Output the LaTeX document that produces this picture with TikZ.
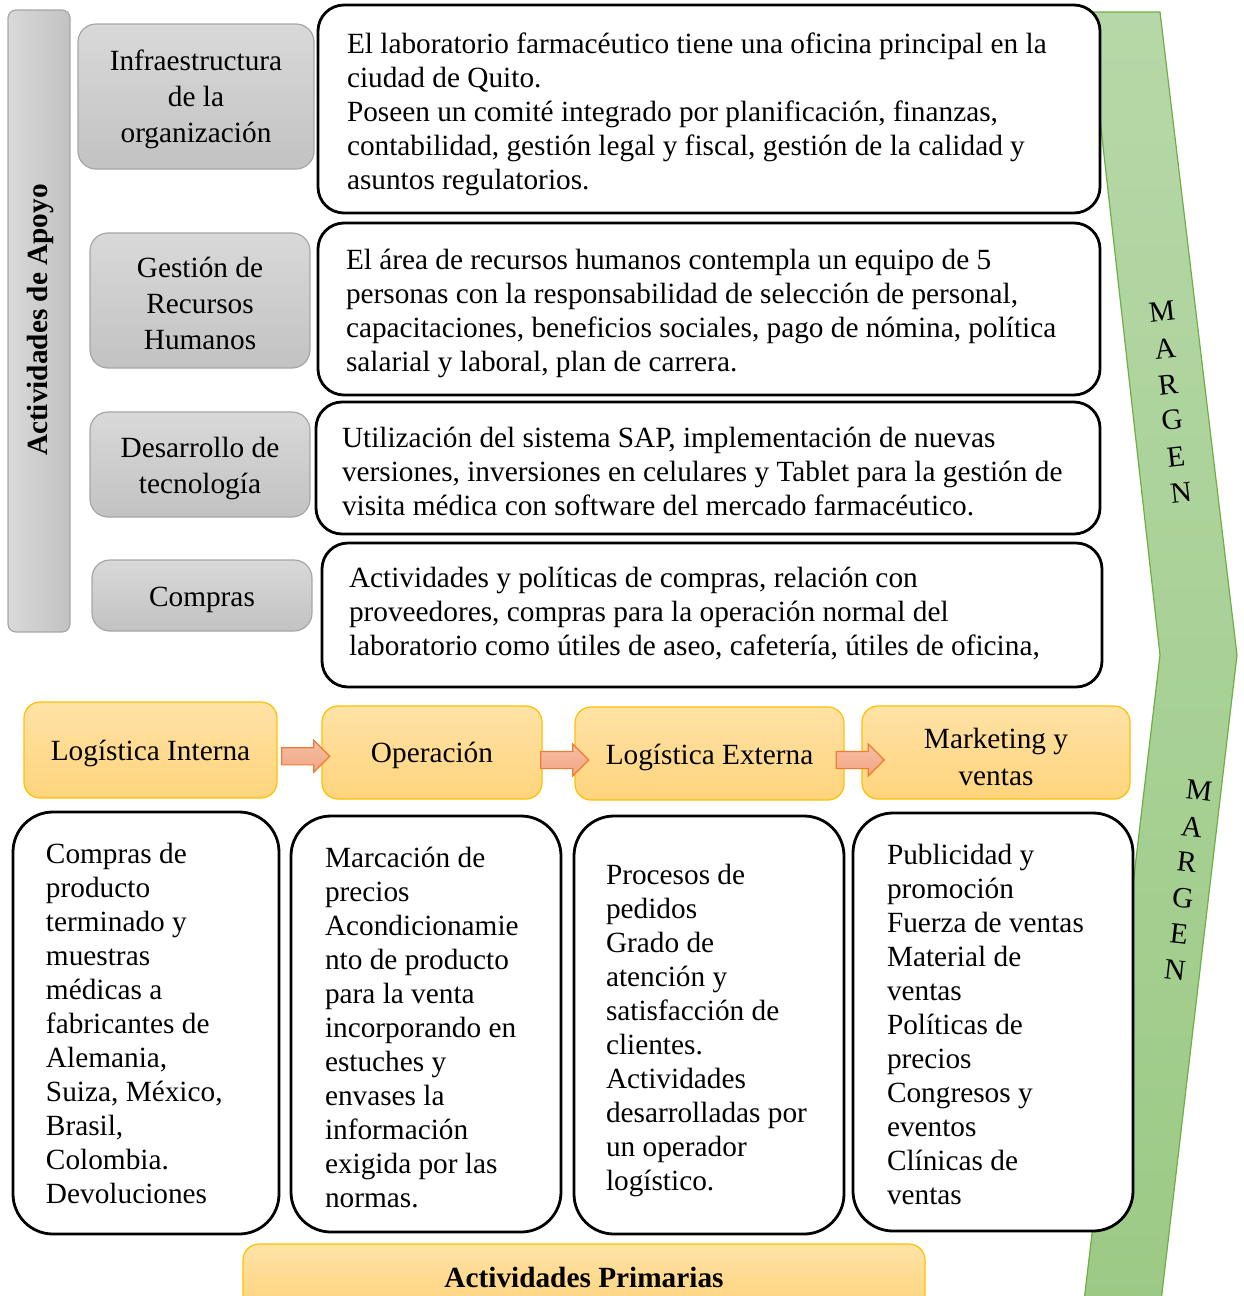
\documentclass[tikz,border=0pt]{standalone}
\usepackage{fontspec}
\setmainfont{Liberation Serif}
\usetikzlibrary{calc,shapes.arrows}

\definecolor{supTop}{HTML}{D9D9D9}
\definecolor{supBot}{HTML}{C2C2C2}
\definecolor{supEdge}{HTML}{A6A6A6}
\definecolor{primTop}{HTML}{FFE2A6}
\definecolor{primBot}{HTML}{FFD47C}
\definecolor{primEdge}{HTML}{FFC000}
\definecolor{arrTop}{HTML}{F7BFA5}
\definecolor{arrBot}{HTML}{F2A585}
\definecolor{arrEdge}{HTML}{ED7D31}
\definecolor{marTop}{HTML}{B6D8A8}
\definecolor{marBot}{HTML}{9CCA85}
\definecolor{marEdge}{HTML}{70AD47}

\begin{document}
\begin{tikzpicture}[x=0.5pt,y=-0.5pt,
  bodyfont/.style={font=\fontsize{14.65}{17}\selectfont},
  supportbox/.style={draw=supEdge, top color=supTop, bottom color=supBot,
    rounded corners=9pt, line width=0.6pt, inner sep=0pt},
  supporttext/.style={align=center, inner sep=0pt, font=\fontsize{14.65}{18}\selectfont},
  descbox/.style={draw=black, fill=white, line width=1.4pt,
    rounded corners=13pt, inner sep=0pt},
  primdesc/.style={descbox, rounded corners=20pt},
  desctext/.style={bodyfont, align=left, inner sep=0pt, anchor=west},
  primbox/.style={draw=primEdge, top color=primTop, bottom color=primBot,
    rounded corners=8pt, line width=0.6pt, inner sep=0pt},
  primtext/.style={align=center, inner sep=0pt, font=\fontsize{14.65}{18.5}\selectfont},
  flowarrow/.style={single arrow, draw=arrEdge, top color=arrTop, bottom color=arrBot,
    minimum height=24pt, inner xsep=0pt, inner ysep=4pt,
    single arrow head extend=3.75pt, line width=0.6pt},
  letter/.style={bodyfont, inner sep=0pt}
]
\clip (0,0) rectangle (1243,1296);

% margin chevron behind everything
\draw[marEdge, line width=0.6pt, top color=marTop, bottom color=marBot]
  (1088,12) -- (1160,12) -- (1237,655) -- (1160,1310) -- (1083,1310) -- (1160,655) -- cycle;
\foreach \ch/\px/\py in {M/1162/312, A/1165/349, R/1168/385, G/1172/420, E/1176/457, N/1181/493}
  \node[letter, rotate=6.4] (up\ch) at (\px,\py) {\ch};
\foreach \ch/\px/\py in {M/1199/790, A/1192/827, R/1187/862, G/1183/898, E/1179/934, N/1175/970}
  \node[letter, rotate=-6.4] (lo\ch) at (\px,\py) {\ch};

% support activities
\node[draw=supEdge, left color=supTop, right color=supBot, rounded corners=4pt,
      line width=0.6pt, minimum width=31pt, minimum height=311pt, inner sep=0pt] (bar) at (39,321) {};
\node[rotate=90, font=\fontsize{14.65}{17}\selectfont\bfseries, inner sep=0pt] (apoyo) at (40,320) {Actividades de Apoyo};

\node[supportbox, minimum width=118pt, minimum height=72.5pt] (infra) at (196,96.5) {};
\node[supporttext] (infraT) at ($(infra.center)+(0,3)$) {Infraestructura\\de la\\organización};
\node[supportbox, minimum width=110pt, minimum height=67.5pt] (rrhh) at (200,300.5) {};
\node[supporttext] (rrhhT) at ($(rrhh.center)+(0,3)$) {Gestión de\\Recursos\\Humanos};
\node[supportbox, minimum width=110pt, minimum height=52.5pt] (tec) at (200,464.5) {};
\node[supporttext] (tecT) at ($(tec.center)+(0,4)$) {Desarrollo de\\tecnología};
\node[supportbox, minimum width=110pt, minimum height=35.5pt] (comp) at (202,595.5) {};
\node[supporttext] (compT) at ($(comp.center)+(0,4)$) {Compras};

\node[descbox, minimum width=391pt, minimum height=104pt] (d1) at (709,109) {};
\node[desctext] (d1t) at ($(d1.west)+(30,5)$)
  {El laboratorio farmacéutico tiene una oficina principal en la\\
   ciudad de Quito.\\
   Poseen un comité integrado por planificación, finanzas,\\
   contabilidad, gestión legal y fiscal, gestión de la calidad y\\
   asuntos regulatorios.};
\node[descbox, minimum width=391pt, minimum height=86pt] (d2) at (709,309) {};
\node[desctext] (d2t) at ($(d2.west)+(29,4)$)
  {El área de recursos humanos contempla un equipo de 5\\
   personas con la responsabilidad de selección de personal,\\
   capacitaciones, beneficios sociales, pago de nómina, política\\
   salarial y laboral, plan de carrera.};
\node[descbox, minimum width=392pt, minimum height=66pt] (d3) at (708,468) {};
\node[desctext] (d3t) at ($(d3.west)+(27,4)$)
  {Utilización del sistema SAP, implementación de nuevas\\
   versiones, inversiones en celulares y Tablet para la gestión de\\
   visita médica con software del mercado farmacéutico.};
\node[descbox, minimum width=390pt, minimum height=72pt] (d4) at (712,615) {};
\node[desctext] (d4t) at ($(d4.west)+(28,-1)$)
  {Actividades y políticas de compras, relación con\\
   proveedores, compras para la operación normal del\\
   laboratorio como útiles de aseo, cafetería, útiles de oficina,};

% primary activities
\node[primbox, minimum width=126.5pt, minimum height=48pt] (li) at (150.5,750) {};
\node[primtext] (liT) at ($(li.center)+(0,3)$) {Logística Interna};
\node[primbox, minimum width=110pt, minimum height=46.5pt] (op) at (432,752.5) {};
\node[primtext] (opT) at ($(op.center)+(0,3)$) {Operación};
\node[primbox, minimum width=134.5pt, minimum height=46.5pt] (le) at (709.5,753.5) {};
\node[primtext] (leT) at ($(le.center)+(0,4)$) {Logística Externa};
\node[primbox, minimum width=134pt, minimum height=46.5pt] (mk) at (996,752.5) {};
\node[primtext] (mkT) at ($(mk.center)+(0,4)$) {Marketing y\\ventas};

\node[flowarrow] (a1) at ($($(li.east)!0.5!(op.west)$)+(2,5)$) {};
\node[flowarrow] (a2) at ($($(op.east)!0.5!(le.west)$)+(2,7)$) {};
\node[flowarrow] (a3) at ($($(le.east)!0.5!(mk.west)$)+(3,7)$) {};

\node[primdesc, minimum width=133pt, minimum height=211pt] (p1) at (146,1023) {};
\node[desctext] (p1t) at ($(p1.west)+(34,0)$)
  {Compras de\\producto\\terminado y\\muestras\\médicas a\\fabricantes de\\Alemania,\\
   Suiza, México,\\Brasil,\\Colombia.\\Devoluciones};
\node[primdesc, minimum width=135pt, minimum height=208pt] (p2) at (426,1024) {};
\node[desctext] (p2t) at ($(p2.west)+(35,4)$)
  {Marcación de\\precios\\Acondicionamie\\nto de producto\\para la venta\\incorporando en\\
   estuches y\\envases la\\información\\exigida por las\\normas.};
\node[primdesc, minimum width=135pt, minimum height=209pt] (p3) at (709,1025) {};
\node[desctext] (p3t) at ($(p3.west)+(33,5)$)
  {Procesos de\\pedidos\\Grado de\\atención y\\satisfacción de\\clientes.\\Actividades\\
   desarrolladas por\\un operador\\logístico.};
\node[primdesc, minimum width=140pt, minimum height=209pt] (p4) at (993,1022) {};
\node[desctext] (p4t) at ($(p4.west)+(35,2)$)
  {Publicidad y\\promoción\\Fuerza de ventas\\Material de\\ventas\\Políticas de\\
   precios\\Congresos y\\eventos\\Clínicas de\\ventas};

\node[primbox, minimum width=341pt, minimum height=33pt] (prim) at (584,1277) {};
\node[inner sep=0pt, font=\fontsize{14.65}{17}\selectfont\bfseries] (primT) at ($(prim.center)+(0,0)$) {Actividades Primarias};
\end{tikzpicture}
\end{document}
